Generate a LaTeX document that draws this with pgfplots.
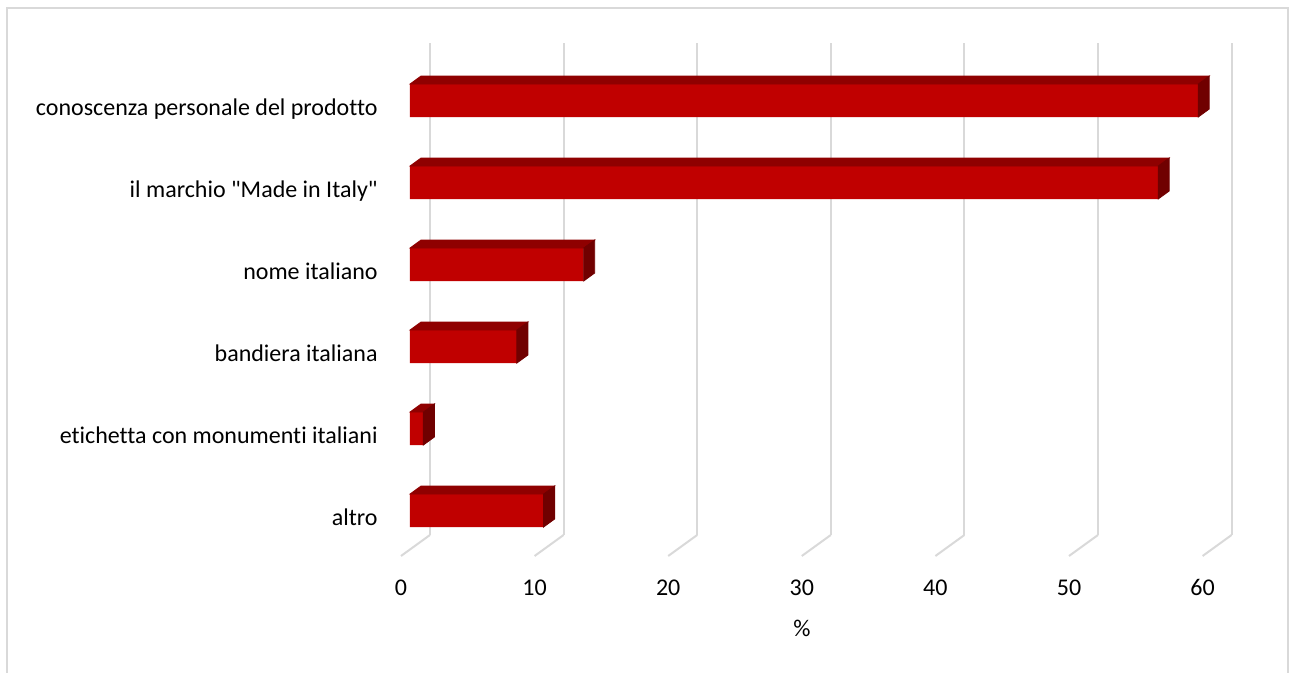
\documentclass[border=0pt]{standalone}
\usepackage{pgfplots}
\usepackage{pgfplotstable}
\pgfplotsset{compat=1.18}
\usepackage{fontspec}
\setmainfont{Carlito}[Ligatures={TeXOff,CommonOff}]
\definecolor{front}{RGB}{192,0,0}
\definecolor{topc}{RGB}{143,0,0}
\definecolor{sidec}{RGB}{112,0,0}
\definecolor{gridc}{RGB}{217,217,217}
\pgfplotstableread{
y v
5 59
4 56
3 13
2 8
1 1
0 10
}\data
\begin{document}
\begin{tikzpicture}
\useasboundingbox (0,0) rectangle (645pt,336.5pt);
\draw[gridc, line width=0.6pt] (3.5pt,-2pt) -- (3.5pt,332.5pt) -- (644pt,332.5pt) -- (644pt,-2pt);
\begin{axis}[
  at={(205pt,61.55pt)}, anchor=south west,
  x=6.68pt, y=41pt,
  xmin=0, xmax=60, ymin=-0.48, ymax=5.52,
  clip=false,
  axis line style={draw=none},
  tick style={draw=none},
  xmajorgrids,
  major grid style={gridc, line width=1pt, xshift=10pt, yshift=7.45pt},
  xtick={0,10,...,60},
  ytick={0,1,2,3,4,5},
  yticklabels={altro, etichetta con monumenti italiani, bandiera italiana, nome italiano, {il marchio "Made in Italy"}, conoscenza personale del prodotto},
  /pgf/number format/assume math mode=true,
  ticklabel style={font=\fontsize{12}{14.4}\selectfont, inner sep=0pt},
  xticklabel style={anchor=base, xshift=-4.5pt, yshift=-23pt},
  yticklabel style={anchor=base east, xshift=-16pt, yshift=-7.6pt},
  xlabel={\%},
  x label style={at={(rel axis cs:0.489,0)}, anchor=base, yshift=-43.5pt, inner sep=0pt, font=\fontsize{12}{14.4}\selectfont},
]
\pgfplotsinvokeforeach{0,10,20,30,40,50,60}{
  \draw[gridc, line width=1pt] ([xshift=10pt,yshift=7.45pt]axis cs:#1,-0.48) -- ([xshift=-4.5pt,yshift=-3.05pt]axis cs:#1,-0.48);
}
\addplot[xbar, bar width=16.5pt, fill=front, draw=none] table[x=v,y=y] {\data};
\addplot[scatter, only marks, mark=text, text mark={},
  visualization depends on={\thisrow{v} \as \val},
  scatter/@pre marker code/.code={%
    \pgfmathsetlengthmacro\L{\val*6.68pt}%
    \fill[topc] (-\L,8.25pt) -- ++(5.5pt,4pt) -- (5.5pt,12.25pt) -- (0pt,8.25pt) -- cycle;
    \fill[sidec] (0pt,8.25pt) -- (5.5pt,12.25pt) -- (5.5pt,-4.25pt) -- (0pt,-8.25pt) -- cycle;
    \begingroup
  },
  scatter/@post marker code/.code={\endgroup}
] table[x=v,y=y] {\data};
\end{axis}
\end{tikzpicture}
\end{document}
